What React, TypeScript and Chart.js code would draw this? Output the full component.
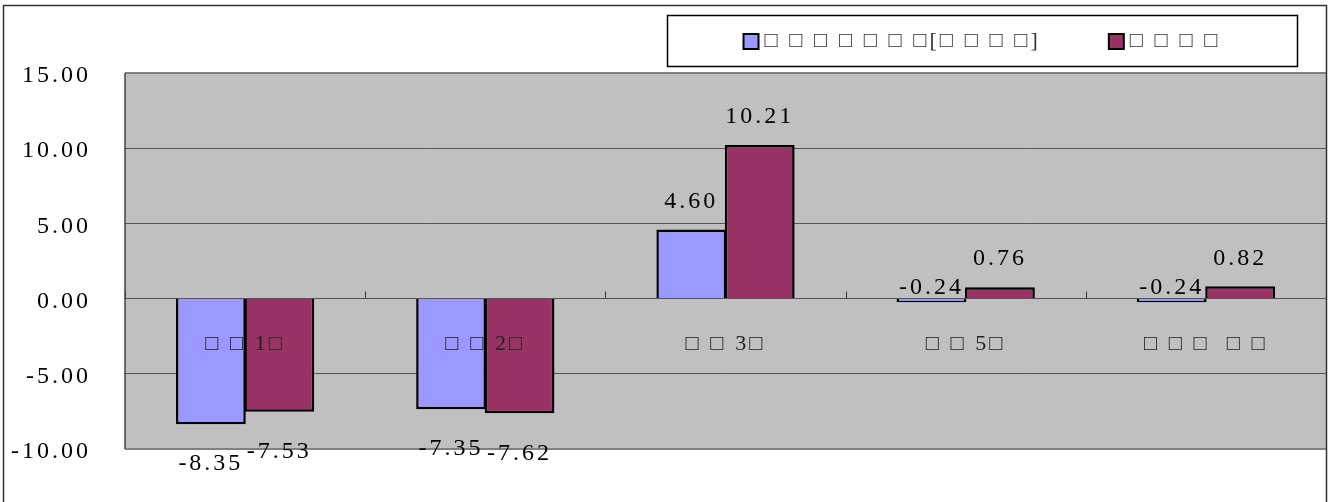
import React, { useEffect, useRef } from 'react';
import { Chart, registerables } from 'chart.js';

Chart.register(...registerables);

const categories = ['□ □ 1□', '□ □ 2□', '□ □ 3□', '□ □ 5□', '□ □ □  □ □'];
const seriesNames = ['□ □ □ □ □ □ □[□ □ □ □]', '□ □ □ □'];
const series1 = [-8.35, -7.35, 4.6, -0.24, -0.24];
const series2 = [-7.53, -7.62, 10.21, 0.76, 0.82];
const seriesColors = ['#9999FF', '#993366'];
const yTicks = [-10, -5, 0, 5, 10, 15];

const FONT = "'Liberation Serif', 'DejaVu Serif', serif";
const SPACING = '3px';

export default function App() {
  const ref = useRef<HTMLCanvasElement | null>(null);

  useEffect(() => {
    document.body.style.margin = '0';
    const canvas = ref.current;
    if (!canvas) return;

    const spacingPlugin = {
      id: 'spacing',
      beforeLayout(chart: any) {
        (chart.ctx as any).letterSpacing = SPACING;
      },
      beforeDraw(chart: any) {
        (chart.ctx as any).letterSpacing = SPACING;
      },
    };

    const decorPlugin = {
      id: 'decor',
      beforeDraw(chart: any) {
        const { ctx, chartArea: a } = chart;
        ctx.save();
        ctx.fillStyle = '#C0C0C0';
        ctx.fillRect(a.left, a.top, a.right - a.left, a.bottom - a.top);
        ctx.restore();
      },
      afterDatasetsDraw(chart: any) {
        const { ctx, chartArea: a } = chart;
        const x = chart.scales.x;
        const y = chart.scales.y;
        const y0 = y.getPixelForValue(0);
        ctx.save();
        (ctx as any).letterSpacing = SPACING;
        // zero line tick marks at category boundaries
        ctx.strokeStyle = '#333';
        ctx.lineWidth = 1;
        const n = categories.length;
        const w = (a.right - a.left) / n;
        for (let i = 0; i < n; i++) {
          const bx = Math.round(a.left + i * w) + 0.5;
          ctx.beginPath();
          ctx.moveTo(bx, y0 - 7);
          ctx.lineTo(bx, y0);
          ctx.stroke();
        }
        // plot border
        ctx.strokeStyle = '#808080';
        ctx.lineWidth = 2;
        ctx.beginPath();
        ctx.moveTo(a.left, a.top);
        ctx.lineTo(a.right, a.top);
        ctx.moveTo(a.left, a.bottom);
        ctx.lineTo(a.right, a.bottom);
        ctx.stroke();
        ctx.strokeStyle = '#404040';
        ctx.lineWidth = 1.5;
        ctx.beginPath();
        ctx.moveTo(a.left, a.top);
        ctx.lineTo(a.left, a.bottom);
        ctx.stroke();

        // category labels inside plot, below zero line
        ctx.font = `22px ${FONT}`;
        ctx.fillStyle = '#222';
        ctx.textAlign = 'center';
        ctx.textBaseline = 'middle';
        categories.forEach((c, i) => {
          ctx.fillText(c, x.getPixelForValue(i), y0 + 46);
        });

        // data labels
        ctx.font = `24px ${FONT}`;
        ctx.fillStyle = '#000';
        chart.data.datasets.forEach((ds: any, di: number) => {
          const meta = chart.getDatasetMeta(di);
          meta.data.forEach((bar: any, i: number) => {
            const v = ds.data[i] as number;
            let ty: number;
            if (v >= 0) ty = bar.y - 28;
            else if (v > -1) ty = y0 - 11;
            else ty = bar.y + 40;
            ctx.fillText(v.toFixed(2), bar.x, ty);
          });
        });
        ctx.restore();
      },
      afterDraw(chart: any) {
        const { ctx } = chart;
        ctx.save();
        (ctx as any).letterSpacing = SPACING;
        // outer border
        ctx.strokeStyle = '#333';
        ctx.lineWidth = 1.5;
        ctx.strokeRect(3.5, 5.5, 1323, 600);
        // legend
        const bx = 667, by = 15, bw = 630, bh = 51;
        ctx.fillStyle = '#fff';
        ctx.fillRect(bx, by, bw, bh);
        ctx.strokeStyle = '#000';
        ctx.lineWidth = 1.5;
        ctx.strokeRect(bx + 0.5, by + 0.5, bw, bh);
        ctx.font = `22px ${FONT}`;
        ctx.textBaseline = 'middle';
        ctx.textAlign = 'left';
        const ds = chart.data.datasets;
        const sq = 15;
        const gapT = 6;
        const gapItem = 68;
        const widths = ds.map((d: any) => ctx.measureText(d.label).width);
        let total = 0;
        widths.forEach((wd: number, i: number) => {
          total += sq + gapT + wd + (i < widths.length - 1 ? gapItem : 0);
        });
        let cx = bx + bw / 2 - total / 2;
        const cy = by + bh / 2 + 1;
        ds.forEach((d: any, i: number) => {
          ctx.fillStyle = d.backgroundColor;
          ctx.fillRect(cx, cy - sq / 2, sq, sq);
          ctx.strokeStyle = '#000';
          ctx.lineWidth = 2;
          ctx.strokeRect(cx, cy - sq / 2, sq, sq);
          ctx.fillStyle = '#333';
          ctx.fillText(d.label, cx + sq + gapT, cy);
          cx += sq + gapT + widths[i] + gapItem;
        });
        ctx.restore();
      },
    };

    const chart = new Chart(canvas, {
      type: 'bar',
      data: {
        labels: categories,
        datasets: [
          {
            label: seriesNames[0],
            data: series1,
            backgroundColor: seriesColors[0],
            borderColor: '#000',
            borderWidth: 2.5,
          },
          {
            label: seriesNames[1],
            data: series2,
            backgroundColor: seriesColors[1],
            borderColor: '#000',
            borderWidth: 2.5,
          },
        ],
      },
      options: {
        responsive: false,
        animation: false,
        devicePixelRatio: 1,
        layout: { padding: { left: 0, top: 73, right: 2, bottom: 53 } },
        datasets: {
          bar: { categoryPercentage: 0.57, barPercentage: 1.02 },
        },
        plugins: {
          legend: { display: false },
          tooltip: { enabled: false },
        },
        scales: {
          x: {
            display: false,
            grid: { display: false },
          },
          y: {
            min: yTicks[0],
            max: yTicks[yTicks.length - 1],
            afterFit(scale: any) {
              scale.width = 125;
            },
            afterBuildTicks(scale: any) {
              scale.ticks = yTicks.map((v) => ({ value: v }));
            },
            border: { display: false },
            grid: {
              color: '#555',
              lineWidth: 1,
              drawTicks: false,
            },
            ticks: {
              padding: 34,
              labelOffset: 3,
              color: '#000',
              font: { family: FONT, size: 24 },
              callback: (v: any) => Number(v).toFixed(2),
            },
          },
        },
      },
      plugins: [spacingPlugin, decorPlugin],
    });

    return () => chart.destroy();
  }, []);

  return (
    <div style={{ width: 1328, height: 502, background: '#fff' }}>
      <canvas ref={ref} width={1328} height={502} style={{ display: 'block' }} />
    </div>
  );
}
